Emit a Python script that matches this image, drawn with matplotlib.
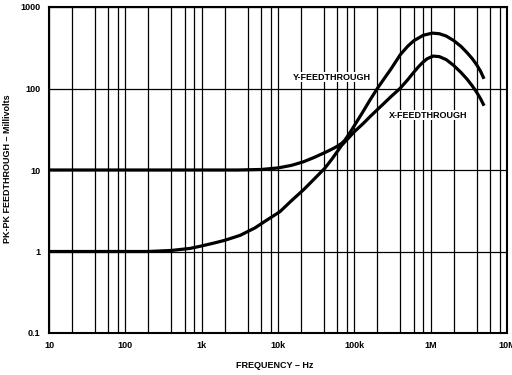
import matplotlib.pyplot as plt
from matplotlib.ticker import FixedLocator, NullFormatter

# values (Hz, mV)
y_freq = [10, 1e3, 3e3, 6e3, 1e4, 1.5e4, 2.15e4, 3e4, 4.36e4, 5.2e4, 6e4, 6.85e4, 7.5e4,
          8.5e4, 1e5, 1.3e5, 1.6e5, 2e5, 2.5e5, 3e5, 4e5, 5e5, 6e5, 8e5, 1.05e6, 1.3e6,
          1.6e6, 2e6, 2.5e6, 3e6, 3.5e6, 4e6, 4.5e6, 4.9e6]
y_feed = [10, 10, 10, 10.15, 10.6, 11.4, 12.6, 14.3, 16.8, 18.2, 19.6, 21.3, 23.2,
          27.5, 35, 52, 72, 100, 135, 172, 260, 330, 385, 450, 478, 470,
          440, 388, 328, 275, 233, 196, 163, 137]

x_freq = [10, 100, 200, 400, 700, 1e3, 1.5e3, 2e3, 3.2e3, 5e3, 7e3, 1.06e4, 1.5e4,
          2.15e4, 3e4, 4.1e4, 5.2e4, 6.8e4, 8.5e4, 1e5, 1.3e5, 1.6e5, 2e5, 2.5e5,
          3e5, 3.5e5, 4e5, 5e5, 6e5, 7e5, 8e5, 9e5, 1.08e6, 1.3e6, 1.6e6, 2e6, 2.5e6,
          3e6, 3.5e6, 4e6, 4.5e6, 4.9e6]
x_feed = [1, 1, 1.0, 1.03, 1.09, 1.17, 1.28, 1.37, 1.58, 1.95, 2.4, 3.08, 4.2,
          5.7, 7.8, 10.5, 14, 20, 25, 29.5, 37, 45, 55, 67,
          79, 90, 101, 128, 158, 187, 212, 232, 250, 246, 226, 192, 157,
          130, 108, 90, 75, 64]

x_ticks = [10, 100, 1e3, 1e4, 1e5, 1e6, 1e7]
x_labels = ['10', '100', '1k', '10k', '100k', '1M', '10M']
y_ticks = [0.1, 1, 10, 100, 1000]
y_labels = ['0.1', '1', '10', '100', '1000']

plt.rcParams['font.family'] = ['Liberation Sans', 'DejaVu Sans']

fig = plt.figure(figsize=(5.12, 3.75), dpi=100)
ax = fig.add_axes([49 / 512, 42 / 375, 458 / 512, 326 / 375])

ax.set_xscale('log')
ax.set_yscale('log')
ax.set_xlim(10, 1e7)
ax.set_ylim(0.1, 1000)

minor = [m * 10 ** d for d in range(1, 7) for m in (2, 4, 6, 8)]
ax.xaxis.set_major_locator(FixedLocator(x_ticks))
ax.xaxis.set_minor_locator(FixedLocator(minor))
ax.xaxis.set_minor_formatter(NullFormatter())
ax.set_xticks(x_ticks, x_labels)
ax.yaxis.set_major_locator(FixedLocator(y_ticks))
ax.yaxis.set_minor_locator(FixedLocator([]))
ax.set_yticks(y_ticks, y_labels)

ax.grid(True, which='major', color='black', linewidth=0.9)
ax.grid(True, which='minor', axis='x', color='black', linewidth=0.9)
ax.tick_params(which='both', length=0, labelsize=6.5, pad=6)
for lab in ax.get_xticklabels() + ax.get_yticklabels():
    lab.set_fontweight('bold')
for s in ax.spines.values():
    s.set_linewidth(1.5)

ax.plot(y_freq, y_feed, color='black', linewidth=2.3, solid_joinstyle='round')
ax.plot(x_freq, x_feed, color='black', linewidth=2.3, solid_joinstyle='round')

ax.text(5.1e4, 138, 'Y-FEEDTHROUGH', fontsize=6.5, fontweight='bold', ha='center', va='center',
        bbox=dict(facecolor='white', edgecolor='none', pad=0.5))
ax.text(9.4e5, 47, 'X-FEEDTHROUGH', fontsize=6.5, fontweight='bold', ha='center', va='center',
        bbox=dict(facecolor='white', edgecolor='none', pad=0.5))

fig.text(275 / 512, 1 - 365 / 375, 'FREQUENCY \u2013 Hz', fontsize=6.5, fontweight='bold',
         ha='center', va='center')
fig.text(8 / 512, 1 - 169 / 375, 'PK-PK FEEDTHROUGH \u2013 Millivolts', fontsize=6.5,
         fontweight='bold', ha='center', va='center', rotation=90)

fig.savefig('out.png', dpi=100)
plt.close(fig)
